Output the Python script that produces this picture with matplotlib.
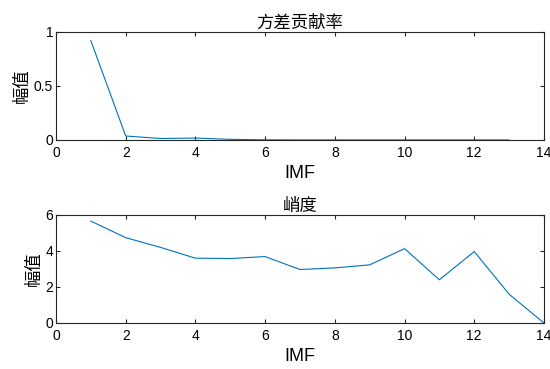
import matplotlib
matplotlib.use('Agg')
import matplotlib.pyplot as plt

plt.rcParams['font.family'] = ['Liberation Sans', 'Noto Sans CJK SC', 'DejaVu Sans']

# IMF index and the two indicators
imf = [1, 2, 3, 4, 5, 6, 7, 8, 9, 10, 11, 12, 13, 14]
var_contrib = [0.92, 0.037, 0.014, 0.018, 0.006, 0.002, 0.001, 0.001, 0.001, 0.001, 0.001, 0.001, 0.001]
kurtosis = [5.66, 4.74, 4.2, 3.6, 3.58, 3.69, 2.97, 3.06, 3.23, 4.13, 2.40, 3.97, 1.60, 0.0]

line_color = '#0072BD'
edge = '#262626'
cjk = ['Noto Sans CJK SC', 'DejaVu Sans']

fig = plt.figure(figsize=(5.5, 3.69), dpi=100)
ax1 = fig.add_axes([0.1018, 0.6206, 0.8872, 0.2927])
ax2 = fig.add_axes([0.1018, 0.1247, 0.8872, 0.2927])

ax1.plot(imf[:len(var_contrib)], var_contrib, color=line_color, lw=0.8)
ax1.set_ylim(0, 1)
ax1.set_yticks([0, 0.5, 1])
ax1.set_yticklabels(['0', '0.5', '1'])
ax1.set_title('方差贡献率', family=cjk, fontsize=12.5, pad=3)

ax2.plot(imf, kurtosis, color=line_color, lw=0.8)
ax2.set_ylim(0, 6)
ax2.set_yticks([0, 2, 4, 6])
ax2.set_title('峭度', family=cjk, fontsize=12.5, pad=3)

for ax in (ax1, ax2):
    ax.set_xlim(0, 14)
    ax.set_xticks(range(0, 15, 2))
    ax.set_xlabel('IMF', fontsize=13, labelpad=4)
    ax.set_ylabel('幅值', family=cjk, fontsize=12.5, labelpad=2)
    ax.tick_params(direction='in', top=True, right=True, length=3, width=0.8,
                   color=edge, labelsize=10)
    ax.tick_params(axis='x', pad=4)
    ax.tick_params(axis='y', pad=2)
    for s in ax.spines.values():
        s.set_color(edge)
        s.set_linewidth(0.8)

fig.savefig('out.png', dpi=100)
